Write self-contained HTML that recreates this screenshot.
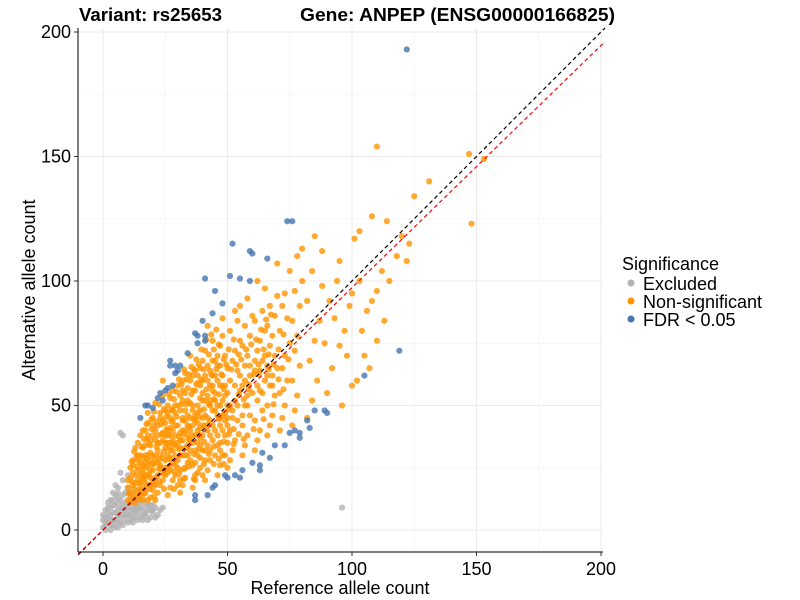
<!DOCTYPE html>
<html><head><meta charset="utf-8"><style>
body{margin:0;background:#fff;}
svg{display:block;font-family:"Liberation Sans",Arial,sans-serif;}
</style></head><body>
<svg id="chart" width="800" height="600" viewBox="0 0 800 600">
<rect width="800" height="600" fill="#fff"/>
<g id="grid"></g>
<g id="points"></g>
<g id="lines"></g>
<line x1="78" y1="28" x2="78" y2="552" stroke="#000" stroke-width="1"/>
<line x1="78" y1="552" x2="603" y2="552" stroke="#000" stroke-width="1"/>
<g id="ticks"></g>
<text x="79" y="21" font-size="18.5" font-weight="bold" textLength="143" lengthAdjust="spacingAndGlyphs">Variant: rs25653</text>
<text x="300" y="21" font-size="18.5" font-weight="bold" textLength="315" lengthAdjust="spacingAndGlyphs">Gene: ANPEP (ENSG00000166825)</text>
<text x="340" y="594" font-size="18" text-anchor="middle">Reference allele count</text>
<text transform="translate(35,290) rotate(-90)" font-size="18" text-anchor="middle">Alternative allele count</text>
<g>
<text x="622" y="270" font-size="18">Significance</text>
<circle cx="631" cy="283" r="3.5" fill="#b3b3b3"/>
<text x="643" y="290" font-size="18">Excluded</text>
<circle cx="631" cy="301" r="3.5" fill="#ff9500"/>
<text x="643" y="308" font-size="18">Non-significant</text>
<circle cx="631" cy="319" r="3.5" fill="#4575b0"/>
<text x="643" y="326" font-size="18">FDR &lt; 0.05</text>
</g>
</svg>
<script>
const xTicks=[0,50,100,150,200];
const yTicks=[0,50,100,150,200];
const minorTicks=[25,75,125,175];
const redSlope=0.973;
const excludedPoints=[[0,1],[1,3],[2,5],[0,6],[3,2],[4,4],[5,7],[2,9],[1,0],[3,0],[5,1],[6,3],[7,5],[8,2],[9,4],[10,6],[11,8],[12,3],[13,5],[14,7],[15,9],[16,4],[17,6],[18,8],[19,5],[20,7],[21,9],[6,8],[4,10],[3,12],[5,14],[7,12],[8,10],[9,15],[6,17],[8,20],[10,22],[7,23],[9,11],[11,13],[12,10],[13,12],[14,9],[2,3],[4,7],[6,1],[8,6],[10,3],[12,8],[15,5],[17,10],[0,4],[1,8],[3,6],[5,4],[7,9],[9,8],[11,4],[13,7],[16,8],[18,4],[20,10],[22,6],[8,38],[7,39],[96,9],[4,15],[6,13],[2,11],[5,18],[10,17],[12,15],[1,5],[3,9],[6,6],[8,14],[10,11],[14,11],[16,12],[19,8],
[11,6],[13,9],[15,11],[17,7],[19,10],[21,5],[23,8],[9,6],[7,3],[5,10],[3,4],[1,2],[2,7],[4,12],[6,11],[8,8],[10,9],[12,5],[14,4],[16,6],[18,10],[20,8],[24,9],[12,12],[14,13],[10,15],[6,15],[4,2]];
const nonsigPoints=[[10,12],[11,15],[12,18],[10,20],[13,22],[11,25],[12,28],[14,30],[13,33],[10,17],[12,13],[14,16],[15,19],[13,11],[11,11],[14,24],[15,27],[12,23],[14,35],[15,38],
[16,12],[17,15],[18,18],[16,21],[19,24],[17,27],[18,30],[16,33],[19,36],[17,40],[18,43],[19,13],[20,16],[16,17],[18,22],[19,28],[17,34],[20,38],[16,26],[18,12],[20,20],[19,31],[17,19],[16,29],[20,45],[18,47],
[21,12],[22,15],[23,18],[21,21],[24,24],[22,27],[23,30],[25,33],[21,36],[24,39],[22,42],[23,45],[25,48],[21,51],[24,54],[26,14],[27,17],[28,20],[26,23],[29,26],[27,29],[28,32],[26,35],[29,38],[27,41],[28,44],[26,47],[29,50],[27,53],[28,56],[25,22],[23,25],[30,18],[22,32],[24,29],[26,40],[28,36],[30,25],[25,43],[29,47],[21,28],[27,35],[30,58],[24,60],
[31,15],[32,18],[33,21],[31,24],[34,27],[32,30],[33,33],[35,36],[31,39],[34,42],[32,45],[33,48],[35,51],[31,54],[34,57],[32,60],[33,63],[36,17],[37,20],[38,23],[36,26],[39,29],[37,32],[38,35],[36,38],[39,41],[37,44],[38,47],[36,50],[39,53],[37,56],[38,59],[36,62],[39,65],[40,68],[35,70],[31,30],[33,40],[35,45],[37,27],[39,37],[34,34],[38,43],[32,52],[40,22],[40,32],[40,45],[40,55],
[41,20],[42,24],[43,28],[41,32],[44,36],[42,40],[43,44],[45,48],[41,52],[44,56],[42,60],[43,64],[45,68],[41,72],[44,76],[46,22],[47,26],[48,30],[46,34],[49,38],[47,42],[48,46],[46,50],[49,54],[47,58],[48,62],[46,66],[49,70],[47,74],[48,78],[50,25],[50,35],[50,45],[50,55],[50,65],[45,40],[43,50],[47,35],[44,62],[49,47],[42,82],[48,85],
[51,28],[52,32],[53,36],[51,40],[54,44],[52,48],[53,52],[55,56],[51,60],[54,64],[52,68],[53,72],[55,76],[51,80],[54,84],[56,30],[57,34],[58,38],[56,42],[59,46],[57,50],[58,54],[56,58],[59,62],[57,66],[58,70],[56,74],[59,78],[57,82],[60,86],[55,90],[53,88],[58,93],
[61,32],[62,36],[63,40],[61,44],[64,48],[62,52],[63,56],[65,60],[61,64],[64,68],[62,72],[63,76],[65,80],[61,84],[64,88],[66,38],[67,42],[68,46],[66,50],[69,54],[67,58],[68,62],[66,66],[69,70],[67,74],[68,78],[66,82],[69,86],[67,90],[70,94],[65,97],[62,100],
[71,40],[72,45],[73,50],[71,55],[74,60],[72,65],[73,70],[75,75],[71,80],[74,85],[72,90],[73,95],[76,42],[77,48],[78,54],[76,60],[79,66],[77,72],[78,78],[76,84],[79,90],[77,96],[80,100],[75,104],[70,107],[78,110],
[82,45],[84,52],[86,60],[83,68],[85,76],[87,84],[82,92],[88,98],[84,104],[90,55],[92,65],[89,75],[93,85],[91,92],[94,100],[95,108],[88,112],[96,50],[98,70],[97,80],[99,90],[100,95],[85,118],[80,113],
[102,60],[104,80],[103,100],[106,88],[108,92],[101,117],[103,120],[110,96],[112,104],[115,100],[118,110],[122,108],[123,115],[114,124],[108,126],[125,134],[110,154],[147,151],[153,149],[148,123],[113,84],[110,76],[107,65],[100,58],[120,118],[131,140],[95,74],[105,70],
[13,14],[15,16],[14,20],[16,23],[17,25],[15,30],[18,26],[19,21],[20,24],[21,18],[22,22],[23,26],[24,20],[25,28],[26,30],[27,24],[28,27],[29,30],[30,28],[31,33],[32,36],[33,30],[34,38],[35,32],[36,35],[37,38],[38,40],[39,34],[40,38],[41,42],[42,45],[43,38],[44,48],[45,52],[46,46],[47,50],[48,52],[49,44],[50,50],[22,35],[24,36],[26,38],[28,40],[30,42],[32,44],[34,46],[36,48],[38,50],[40,52],[42,54],[44,58],[46,60],[48,58],[20,30],[22,38],[24,44],[26,50],[28,48],[30,50],[32,56],[34,52],[36,56],[38,62],[40,60],[42,66],[44,68],[46,70],[15,22],[17,30],[19,34],[21,40],[23,47],[25,38],[27,45],[29,42],[31,48],[33,55],[35,60],[37,64],[39,58],[41,62],[43,58],[45,62],[47,66],[30,35],[32,40],[34,30],[36,42],[38,30],[40,42],[42,34],[44,42],[46,38],[48,40],[50,42],[52,45],[54,50],[56,46],[58,50],[60,55],[62,58],[64,55],[66,62],[68,58],[70,65],[25,35],[27,38],[29,34],[31,36],[33,44],[35,40],[37,46],[39,48],[41,46],[43,52],[45,55],[47,45],[49,58],[51,50],[53,58],[55,62],[57,60],[59,66],[61,68],[63,64],[65,70],[18,38],[20,42],[16,40],[14,28],[12,26],[11,21],[13,19],[15,14],[17,22],[19,18],[21,30],[23,35],[25,25],[27,32],[29,22],[31,20],[33,25],[35,28],[37,22],[39,25],[41,28],[43,32],[45,30],[47,32],[49,30],
[10.5,14.5],[12.5,16.5],[14.5,18.5],[16.5,20.5],[18.5,22.5],[20.5,26.5],[22.5,28.5],[24.5,31.5],[26.5,33.5],[28.5,34.5],[30.5,37.5],[32.5,38.5],[34.5,41.5],[36.5,44.5],[38.5,45.5],[40.5,48.5],[42.5,50.5],[44.5,52.5],[46.5,54.5],[48.5,56.5],[11.5,19.5],[13.5,25.5],[15.5,24.5],[17.5,28.5],[19.5,26.5],[21.5,33.5],[23.5,38.5],[25.5,40.5],[27.5,43.5],[29.5,45.5],[31.5,50.5],[33.5,50.5],[35.5,54.5],[37.5,58.5],[39.5,60.5],[41.5,56.5],[43.5,62.5],[45.5,64.5],[47.5,62.5],[49.5,66.5],[14.5,12.5],[16.5,14.5],[18.5,16.5],[20.5,18.5],[22.5,19.5],[24.5,22.5],[26.5,25.5],[28.5,23.5],[30.5,22.5],[32.5,24.5],[34.5,25.5],[36.5,30.5],[38.5,32.5],[40.5,35.5],[42.5,30.5],[44.5,33.5],[46.5,28.5],[48.5,35.5],[50.5,38.5],[52.5,40.5],[54.5,38.5],[56.5,52.5],[58.5,58.5],[60.5,62.5],[62.5,66.5],[64.5,72.5],[66.5,70.5],[68.5,66.5],[70.5,72.5],[72.5,78.5],[55.5,68.5],[57.5,72.5],[59.5,74.5],[53.5,66.5],[51.5,64.5],[61.5,76.5],[63.5,80.5],[65.5,84.5],[67.5,86.5],[54.5,70.5],[52.5,76.5],[50.5,72.5],[48.5,68.5],[46.5,74.5],[44.5,72.5],[42.5,70.5],[40.5,64.5],[38.5,66.5],[36.5,64.5],[34.5,62.5],[32.5,64.5],[30.5,60.5],[28.5,52.5],[26.5,54.5],[24.5,48.5],[22.5,50.5],[20.5,47.5],[19.5,40.5],[17.5,36.5],[15.5,33.5],[13.5,29.5],[11.5,27.5],[12.5,31.5],[16.5,36.5],[18.5,34.5],[22.5,24.5],[26.5,28.5],[30.5,32.5],[34.5,36.5],[38.5,38.5],[42.5,42.5],[46.5,44.5],[50.5,48.5],[54.5,54.5],[58.5,56.5],[62.5,62.5],[66.5,64.5],[70.5,60.5],[74.5,68.5],[72.5,56.5],[68.5,50.5],[64.5,44.5],[60.5,40.5],[56.5,36.5],[52.5,34.5],[48.5,26.5],[44.5,26.5],[40.5,26.5],[36.5,20.5],[32.5,20.5],[28.5,16.5],[24.5,16.5],[20.5,13.5],[23.5,42.5],[25.5,45.5],[27.5,48.5],[29.5,55.5],[31.5,58.5],[33.5,60.5],[35.5,65.5],[37.5,68.5],[39.5,72.5],[41.5,76.5],[43.5,78.5],[45.5,80.5],[21.5,43.5],[19.5,44.5],[17.5,42.5]];
const fdrPoints=[[74,124],[76,124],[52,115],[59,112],[60,111],[66,109],[41,101],[51,102],[55,101],[59,100],[45,96],[48,91],[44,87],[40,84],[37,79],[38,78],[41,78],[41,76],[38,75],[34,71],[27,68],[27,66],[29,66],[31,66],[30,64],[29,63],[28,58],[26,57],[25,56],[23,55],[22,53],[24,52],[17,50],[18,50],[20,49],[15,45],[122,193],[119,72],[105,62],[85,48],[89,48],[90,47],[82,44],[83,41],[75,39],[77,40],[79,39],[79,37],[69,34],[73,34],[64,31],[67,29],[60,27],[63,26],[63,24],[56,24],[53,22],[55,21],[50,21],[49,22],[45,18],[44,17],[42,14],[37,14],[37,12]];
const X=v=>103+v*2.49, Y=v=>530-v*2.49;
const NS='http://www.w3.org/2000/svg';
const grid=document.getElementById('grid'), pts=document.getElementById('points'), lines=document.getElementById('lines'), ticks=document.getElementById('ticks');
function mk(tag,attrs,parent){const e=document.createElementNS(NS,tag);for(const k in attrs)e.setAttribute(k,attrs[k]);parent.appendChild(e);return e;}
minorTicks.forEach(t=>{
 let a=mk('line',{x1:X(t),x2:X(t),y1:28,y2:552,stroke:'#f2f2f2','stroke-width':0.6},grid);
 
 
 let b=mk('line',{x1:78,x2:603,y1:Y(t),y2:Y(t),stroke:'#f2f2f2','stroke-width':0.6},grid);
 
 
});
xTicks.forEach(t=>{
 let a=mk('line',{x1:X(t),x2:X(t),y1:28,y2:552,stroke:'#ebebeb','stroke-width':1.1},grid);
 
 
 let tk=mk('line',{x1:X(t),x2:X(t),y1:552,y2:556,stroke:'#333'},ticks);
 
 
 let tx=mk('text',{x:X(t),y:575,'font-size':18,'text-anchor':'middle',fill:'#000'},ticks);tx.textContent=t;
 
 
});
yTicks.forEach(t=>{
 let a=mk('line',{x1:78,x2:603,y1:Y(t),y2:Y(t),stroke:'#ebebeb','stroke-width':1.1},grid);
 
 
 let tk=mk('line',{x1:74,x2:78,y1:Y(t),y2:Y(t),stroke:'#333'},ticks);
 
 
 let tx=mk('text',{x:71,y:Y(t)+6,'font-size':18,'text-anchor':'end',fill:'#000'},ticks);tx.textContent=t;
 
 
});
function plot(arr,color,name){arr.forEach(p=>{
 let c=mk('circle',{cx:X(p[0]),cy:Y(p[1]),r:3.1,fill:color,'fill-opacity':0.8},pts);
 
 
});}
plot(excludedPoints,'#b3b3b3','excluded-point');
plot(nonsigPoints,'#ff9500','nonsignificant-point');
plot(fdrPoints,'#4575b0','fdr-point');
const x0=-10,x1=200.8;
let bl=mk('line',{x1:X(x0),y1:Y(x0),x2:X(201.6),y2:Y(201.6),stroke:'#000','stroke-dasharray':'4,3','stroke-width':1.2},lines);


let rl=mk('line',{x1:X(x0),y1:Y(x0*redSlope),x2:X(x1),y2:Y(x1*redSlope),stroke:'#ff0000','stroke-dasharray':'4,3','stroke-width':1.2},lines);


</script>
</body></html>
